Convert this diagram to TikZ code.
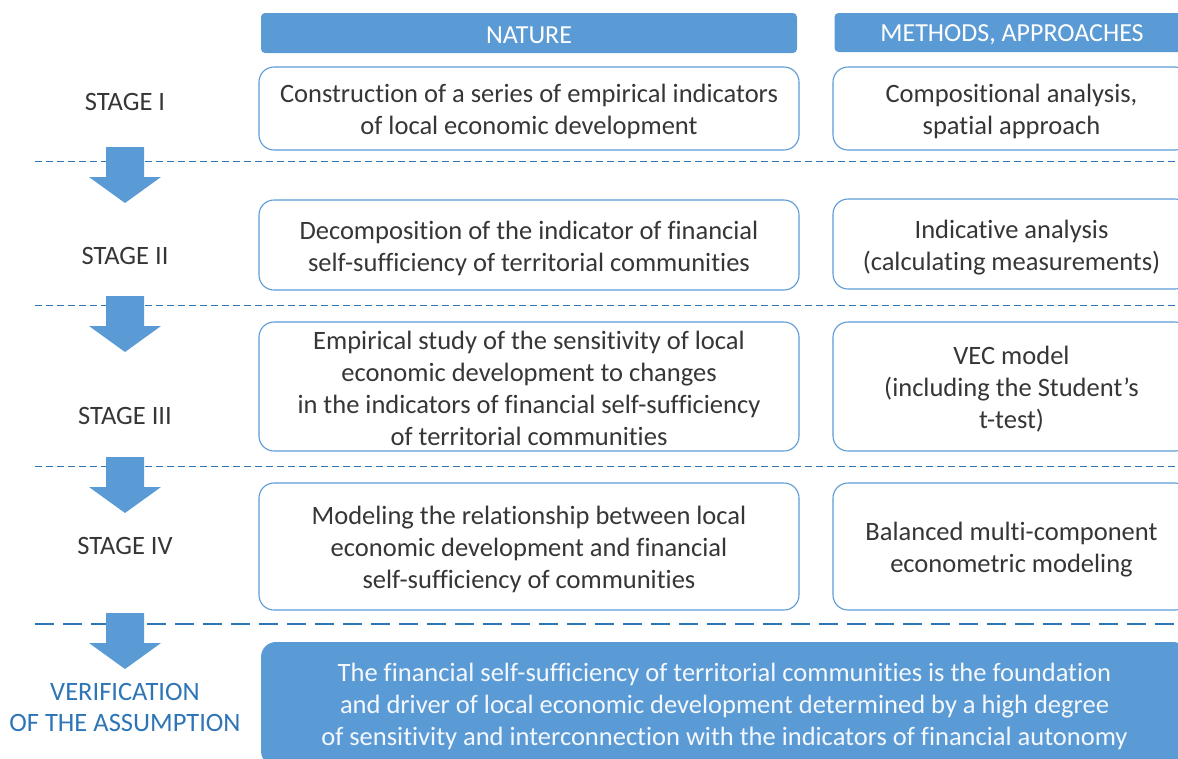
\documentclass[tikz,border=0pt]{standalone}
\usepackage{fontspec}
\setmainfont{Carlito}[Ligatures=NoCommon]
\definecolor{blu}{HTML}{5B9BD5}
\definecolor{dblu}{HTML}{2E75B6}
\definecolor{txt}{HTML}{363636}
\definecolor{wtxt}{HTML}{F4F8FC}
\begin{document}
\begin{tikzpicture}[x=1pt,y=-1pt,
  hdr/.style={fill=blu, rounded corners=4pt, inner sep=0pt, text=white, text height=20.5pt, text depth=0pt, font=\fontsize{26}{30}\selectfont},
  cbox/.style={draw=blu, line width=1.1pt, rounded corners=15pt, fill=white, inner sep=0pt},
  ctext/.style={align=center, text=txt, inner sep=0pt, font=\fontsize{26.5}{32}\selectfont},
  stagelbl/.style={text=txt, align=center, font=\fontsize{26.5}{31}\selectfont},
  sep/.style={draw=dblu, line width=0.9pt, dash pattern=on 7pt off 4pt},
  sepbold/.style={draw=dblu, line width=1.8pt, dash pattern=on 19pt off 9pt},
  blockarrow/.style={fill=blu, draw=none}
]
\useasboundingbox (0,0) rectangle (1178,758);
\clip (0,0) rectangle (1178,758);

% separators
\draw[sep] (35,161) -- (1178,161);
\draw[sep] (35,305) -- (1178,305);
\draw[sep] (35,466) -- (1178,466);
\draw[sepbold] (35,624) -- (1178,624);

% block arrows
\foreach \t in {147,296,457,613}{
  \fill[blockarrow] (106,\t) -- (144,\t) -- (144,\t+30) -- (161,\t+30) -- (125,\t+56) -- (89,\t+30) -- (106,\t+30) -- cycle;
}

% headers
\node[hdr, minimum width=536pt, minimum height=40pt] (hnat) at (529,33) {NATURE};
\node[hdr, text height=17pt, minimum width=355pt, minimum height=39pt] (hmet) at (1012,32.5) {METHODS, APPROACHES};

% stage labels
\node[stagelbl] (s1) at (125,102) {STAGE I};
\node[stagelbl] (s2) at (125,256) {STAGE II};
\node[stagelbl] (s3) at (125,416) {STAGE III};
\node[stagelbl] (s4) at (125,546) {STAGE IV};
\node[stagelbl, text=dblu] (sv) at (125,707) {VERIFICATION\\OF THE ASSUMPTION};

% stage I
\node[cbox, minimum width=540pt, minimum height=83pt] (n1) at (529,108.5) {};
\node[ctext] (n1t) at ([yshift=-3pt]n1.center) {Construction of a series of empirical indicators\\of local economic development};
\node[cbox, minimum width=357pt, minimum height=83pt] (m1) at (1011.5,108.5) {};
\node[ctext] (m1t) at ([yshift=-3pt]m1.center) {Compositional analysis,\\spatial approach};

% stage II
\node[cbox, minimum width=540pt, minimum height=90pt] (n2) at (529,245) {};
\node[ctext] (n2t) at ([yshift=-3pt]n2.center) {Decomposition of the indicator of financial\\self-sufficiency of territorial communities};
\node[cbox, minimum width=357pt, minimum height=90pt] (m2) at (1011.5,244) {};
\node[ctext] (m2t) at ([yshift=-4pt]m2.center) {Indicative analysis\\(calculating measurements)};

% stage III
\node[cbox, minimum width=540pt, minimum height=129pt] (n3) at (529,386.5) {};
\node[ctext] (n3t) at ([yshift=-2pt]n3.center) {Empirical study of the sensitivity of local\\economic development to changes\\in the indicators of financial self-sufficiency\\of territorial communities};
\node[cbox, minimum width=357pt, minimum height=129pt] (m3) at (1011.5,386.5) {};
\node[ctext] (m3t) at ([yshift=-3pt]m3.center) {VEC model\\(including the Student’s\\t-test)};

% stage IV
\node[cbox, minimum width=540pt, minimum height=127pt] (n4) at (529,546.5) {};
\node[ctext] (n4t) at ([yshift=-3pt]n4.center) {Modeling the relationship between local\\economic development and financial\\self-sufficiency of communities};
\node[cbox, minimum width=357pt, minimum height=127pt] (m4) at (1011.5,546.5) {};
\node[ctext] (m4t) at ([yshift=-3pt]m4.center) {Balanced multi-component\\econometric modeling};

% conclusion
\node[fill=blu, rounded corners=15pt, minimum width=927pt, minimum height=124pt, inner sep=0pt] (conc) at (724.5,704) {};
\node[ctext, text=wtxt] (conct) at ([yshift=-2.5pt]conc.center) {The financial self-sufficiency of territorial communities is the foundation\\and driver of local economic development determined by a high degree\\of sensitivity and interconnection with the indicators of financial autonomy};
\end{tikzpicture}
\end{document}
